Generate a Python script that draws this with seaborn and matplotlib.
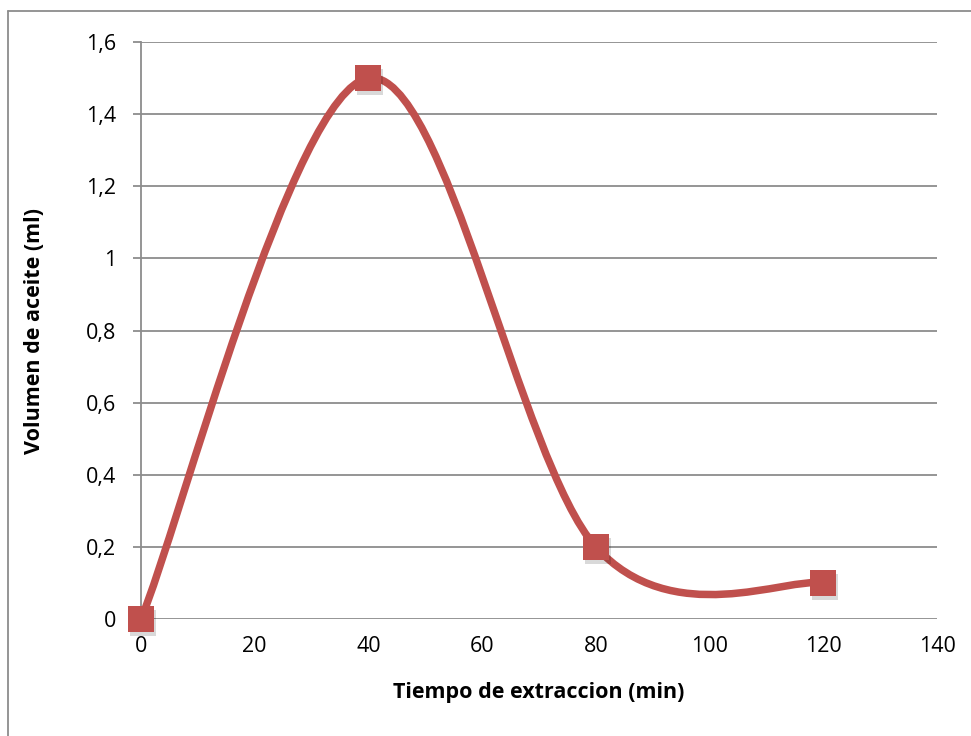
import matplotlib
matplotlib.use("Agg")
import matplotlib.pyplot as plt
import matplotlib.transforms as mtransforms
from matplotlib.path import Path
from matplotlib.patches import PathPatch
from matplotlib.lines import Line2D
import seaborn as sns
import pandas as pd

# data
tiempo = [0, 40, 80, 120]
volumen = [0, 1.5, 0.2, 0.1]
x_ticks = [0, 20, 40, 60, 80, 100, 120, 140]
y_ticks = [0, 0.2, 0.4, 0.6, 0.8, 1.0, 1.2, 1.4, 1.6]
y_labels = ["0", "0,2", "0,4", "0,6", "0,8", "1", "1,2", "1,4", "1,6"]

df = pd.DataFrame({"tiempo": tiempo, "volumen": volumen})

sns.set_theme(style="white")
plt.rcParams["font.family"] = ["Open Sans", "DejaVu Sans"]

red = "#C0504D"
grid = "#8C8C8C"

fig = plt.figure(figsize=(9.71, 7.36), dpi=100)
ax = fig.add_axes([141 / 971, 1 - 619 / 736, 796 / 971, 577 / 736])

# smoothed line (Excel style bezier through the points)
pts = list(zip(tiempo, volumen))
verts = [pts[0]]
codes = [Path.MOVETO]
n = len(pts)
for i in range(n - 1):
    p0 = pts[i - 1] if i > 0 else pts[i]
    p1 = pts[i]
    p2 = pts[i + 1]
    p3 = pts[i + 2] if i + 2 < n else pts[i + 1]
    c1 = (p1[0] + (p2[0] - p0[0]) / 6, p1[1] + (p2[1] - p0[1]) / 6)
    c2 = (p2[0] - (p3[0] - p1[0]) / 6, p2[1] - (p3[1] - p1[1]) / 6)
    verts += [c1, c2, p2]
    codes += [Path.CURVE4] * 3
ax.add_patch(PathPatch(Path(verts, codes), facecolor="none", edgecolor=red,
                       lw=5.4, capstyle="round", joinstyle="round", zorder=3))

# marker shadow
shadow = mtransforms.offset_copy(ax.transData, fig=fig, x=2, y=-4, units="dots")
ax.scatter(tiempo, volumen, marker="s", s=360, color="#000000", alpha=0.15,
           linewidths=0, transform=shadow, zorder=3.5, clip_on=False)
sns.scatterplot(data=df, x="tiempo", y="volumen", marker="s", s=350, color=red,
                edgecolor=red, linewidth=0, ax=ax, zorder=4, clip_on=False)

ax.set_xlim(0, 140)
ax.set_ylim(0, 1.6)
ax.set_xticks(x_ticks)
ax.set_xticklabels([str(v) for v in x_ticks])
ax.set_yticks(y_ticks)
ax.set_yticklabels(y_labels)

ax.grid(axis="y", color=grid, lw=1.3)
ax.grid(axis="x", visible=False)
ax.set_axisbelow(True)
for s in ["top", "right", "bottom"]:
    ax.spines[s].set_visible(False)
ax.spines["left"].set_color(grid)
ax.spines["left"].set_linewidth(1.3)

ax.tick_params(axis="y", which="both", left=True, length=6, width=1.3, color=grid,
               pad=12, labelsize=15.5, labelcolor="black")
ax.tick_params(axis="x", bottom=False, length=0, pad=12, labelsize=15.5, labelcolor="black")

ax.set_xlabel("Tiempo de extraccion (min)", fontsize=15.5, fontweight="bold",
              labelpad=18, color="black")
ax.set_ylabel("Volumen de aceite (ml)", fontsize=15.5, fontweight="bold",
              labelpad=29, color="black")

# outer chart border (top and left visible)
fig.add_artist(Line2D([8 / 971, 8 / 971], [0, 1 - 11 / 736], transform=fig.transFigure,
                      color="#8C8C8C", lw=1.3))
fig.add_artist(Line2D([8 / 971, 1], [1 - 11 / 736, 1 - 11 / 736], transform=fig.transFigure,
                      color="#8C8C8C", lw=1.3))

fig.savefig("out.png", dpi=100)
